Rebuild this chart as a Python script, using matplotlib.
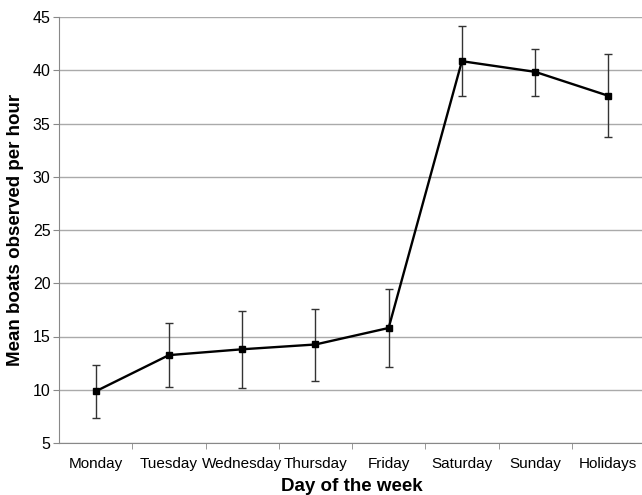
import matplotlib
matplotlib.use("Agg")
from matplotlib import pyplot as plt

days = ["Monday", "Tuesday", "Wednesday", "Thursday", "Friday",
        "Saturday", "Sunday", "Holidays"]
mean_boats = [9.85, 13.25, 13.8, 14.25, 15.8, 40.85, 39.85, 37.6]
err_low = [2.5, 3.0, 3.65, 3.4, 3.7, 3.3, 2.3, 3.9]
err_high = [2.5, 3.05, 3.6, 3.3, 3.65, 3.35, 2.15, 3.9]

plt.rcParams["font.family"] = ["Liberation Sans", "DejaVu Sans"]

fig = plt.figure(figsize=(6.42, 4.95), dpi=100)
ax = fig.add_axes([59 / 642, 52 / 495, 586 / 642, 426 / 495])

x = list(range(len(days)))
ax.errorbar(x, mean_boats, yerr=[err_low, err_high], fmt="none",
            ecolor="#333333", elinewidth=1, capsize=3, capthick=1, zorder=3)
ax.plot(x, mean_boats, color="black", linewidth=1.7, marker="s",
        markersize=5, zorder=4)

ax.set_xlim(-0.5, len(days) - 0.5)
ax.set_ylim(5, 45)
ax.set_yticks(range(5, 50, 5))
ax.set_xticks(x)
ax.set_xticklabels(days, fontsize=11)
ax.set_xticks([i + 0.5 for i in x[:-1]], minor=True)
ax.tick_params(axis="x", which="major", length=0, pad=10)
ax.tick_params(axis="x", which="minor", length=4, color="#888888")
ax.tick_params(axis="y", labelsize=11.5, length=4, color="#888888", pad=2)

ax.yaxis.grid(True, color="#aaaaaa", linewidth=1)
ax.set_axisbelow(True)
for side in ["top", "right"]:
    ax.spines[side].set_visible(False)
for side in ["left", "bottom"]:
    ax.spines[side].set_color("#888888")

ax.set_xlabel("Day of the week", fontsize=13.5, fontweight="bold", labelpad=5)
ax.set_ylabel("Mean boats observed per hour", fontsize=13.5,
              fontweight="bold", labelpad=6)

fig.savefig("out.png", dpi=100)
